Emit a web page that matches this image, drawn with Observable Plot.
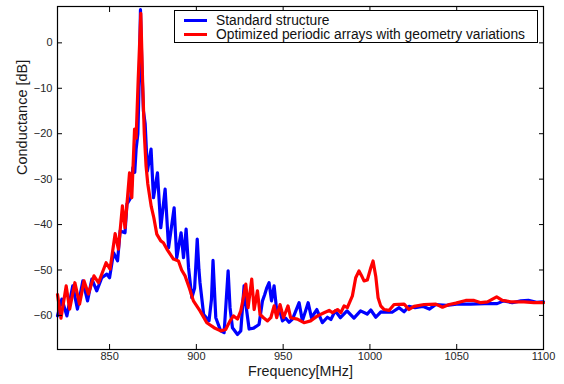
<!DOCTYPE html>
<html>
<head>
<meta charset="utf-8">
<script src="https://cdn.jsdelivr.net/npm/d3@7"></script>
<script src="https://cdn.jsdelivr.net/npm/@observablehq/plot@0.6"></script>
<style>
  body { margin: 0; background: white; }
  #wrap { position: relative; width: 564px; height: 384px; font-family: "Liberation Sans", Arial, sans-serif; }
  #legend { position: absolute; left: 174px; top: 10px; width: 362px; height: 31px; border: 1px solid black; background: white; font-size: 13.8px; color: #111; }
  .row { position: absolute; left: 0; height: 13px; line-height: 13px; white-space: nowrap; }
  .sw { position: absolute; left: 9px; top: 5px; width: 23px; height: 3px; }
  .lbl { position: absolute; left: 41px; top: 0; line-height: 13px; height: 13px; }
</style>
</head>
<body>
<div id="wrap"></div>
<script>
// ---- data ----
const seriesNames = ["Standard structure", "Optimized periodic arrays with geometry variations"];
const seriesColors = ["#0000ff", "#ff0000"];

const stdFreq = [820,822.5,825.4,828.8,831.5,834.6,837.3,839.8,842.6,845.5,848.4,850,852.3,854.6,856.1,858.9,860,862.2,863.4,864.5,865.3,866.3,867.1,867.8,868.6,869.5,870.5,871.8,873.9,875.3,877.6,879.5,882,884,887.2,888.7,891.2,892.6,894.1,895.5,897.4,899,900.5,901.5,902.1,904.2,907.3,908.7,909.6,911.2,914,916,918.3,919.4,920.8,923.7,925.6,927.5,928.5,930.4,933,936.1,938.1,939.4,940.5,941.9,943.3,944.8,946.3,947.6,949.6,951.5,953.4,955.4,959.2,961.1,964.4,966.3,969.4,972.6,975.5,977.5,980,983,986.8,990.8,994.6,998.4,1000.5,1003.4,1006.3,1010,1012.8,1016.8,1019.7,1022.5,1026,1030.4,1034.2,1038,1044,1050,1058,1066,1073.3,1077,1082,1087,1091.3,1096,1100];
const stdDb = [-60.1,-56.4,-60.1,-53.5,-58.6,-52.4,-56.8,-52.0,-54.6,-51.7,-50.9,-51.7,-46.2,-48.0,-41.4,-41.8,-35.5,-34.1,-27.5,-28.5,-23.4,-20,-8,7.3,-5,-15,-17.8,-28.2,-23.4,-34.1,-28.6,-40.7,-32.2,-45.1,-36.3,-47.3,-41.8,-47.3,-41,-49.5,-56.1,-54,-43.2,-50,-52.8,-59.8,-61.2,-56.5,-47.9,-60.5,-63.4,-63.8,-50.2,-58.3,-62.7,-64.2,-63.4,-53.5,-57.6,-63,-62.8,-62,-56.8,-55.4,-54,-52.8,-56.8,-53.5,-59,-58.3,-61.2,-60.6,-61.5,-60.8,-57.2,-61.2,-57.2,-60.5,-58.7,-61.6,-60.4,-60.9,-59,-60.5,-59,-60.6,-59,-59.7,-58.8,-60.4,-59.2,-59.3,-59.3,-58.3,-59.2,-58,-58.3,-58,-58.6,-57.6,-57.8,-57.5,-57.5,-57.4,-57.4,-56.8,-57.2,-56.8,-56.7,-57.1,-57];

const optFreq = [820,822,825,827,830,832.7,835.3,837.8,841,843.6,848,850.3,853.2,855.1,857.4,858.9,861.5,862.8,864.4,865.3,866.5,868,869,870,871,872,874,875.5,877.2,879.5,881,883,886.8,889.7,891.5,893.5,896,898.3,902.1,906,910.2,914,916.9,919.4,921.4,923.7,925.6,926.9,928.5,929.8,931.9,933.3,935.2,936.7,938.7,941,942.9,944.8,946.3,948.2,950.2,952.8,954.3,958.2,962,965.8,969.8,973.6,976.5,978.4,981.3,983.2,985.1,987,989.9,991.8,993.7,995.5,996.6,998.5,1000.5,1001.8,1003.4,1004.7,1006.2,1008.2,1011,1013.9,1019.7,1022.5,1025.4,1031.2,1038,1041.8,1045.7,1049.5,1055.2,1060,1063.9,1067.7,1073,1076.3,1081,1088.8,1094.5,1100];
const optDb = [-55.4,-60.6,-53.5,-58.6,-52.8,-57.5,-52.4,-55.3,-51.3,-52.8,-48.4,-49.8,-42,-45.4,-35.9,-40.7,-28.6,-34.1,-19,-21,-8,6.5,-8,-20,-27,-31,-36,-38.5,-42.1,-43.6,-44,-45.4,-47.6,-48,-50,-51.3,-54,-56.8,-59,-61.6,-62.7,-63.4,-63.1,-61.2,-60.1,-60.8,-59,-56.5,-53.1,-58.3,-52,-58.7,-54.6,-59.8,-60.5,-61.2,-60.5,-57.9,-60.5,-57.6,-60.5,-57.9,-60.5,-60.8,-61.6,-61.2,-60.1,-59.4,-58.9,-59.4,-58.7,-59.4,-57.9,-58.3,-55.7,-51.7,-50.2,-51.5,-52.4,-52.2,-49.5,-48,-51.5,-56.1,-57.9,-58.7,-58.9,-57.6,-57.5,-58.7,-58,-57.6,-57.5,-58.2,-57.6,-57.3,-56.7,-56.7,-57.2,-57,-55.9,-56.7,-57,-57,-57.2,-57.2];

const xTicks = [850, 900, 950, 1000, 1050, 1100];
const yTicks = [0, -10, -20, -30, -40, -50, -60];
const xLabel = "Frequency[MHz]";
const yLabel = "Conductance [dB]";

// ---- build ----
const std = stdFreq.map((f, i) => ({f, v: stdDb[i]}));
const opt = optFreq.map((f, i) => ({f, v: optDb[i]}));
const fmtY = d => d < 0 ? "\u2212" + Math.abs(d) : String(d);
const noText = () => "";
const textColor = "#262626";

const chart = Plot.plot({
  width: 564,
  height: 384,
  marginLeft: 57,
  marginRight: 21,
  marginTop: 6,
  marginBottom: 35,
  style: {fontFamily: "'Liberation Sans', Arial, sans-serif", fontSize: "11px", color: textColor, background: "white"},
  x: {domain: [820, 1100]},
  y: {domain: [-67.5, 8]},
  marks: [
    Plot.line(std, {x: "f", y: "v", stroke: seriesColors[0], strokeWidth: 3.2, strokeLinejoin: "round"}),
    Plot.line(opt, {x: "f", y: "v", stroke: seriesColors[1], strokeWidth: 3.2, strokeLinejoin: "round"}),
    Plot.frame({stroke: "black", strokeWidth: 1.2}),
    Plot.axisX(xTicks, {anchor: "bottom", tickSize: 0, tickPadding: 3, tickFormat: d => String(d), label: null, fill: textColor}),
    Plot.axisX(xTicks, {anchor: "bottom", tickSize: -5, tickFormat: noText, label: null, stroke: "black"}),
    Plot.axisX(xTicks, {anchor: "top", tickSize: -5, tickFormat: noText, label: null, stroke: "black"}),
    Plot.axisY(yTicks, {anchor: "left", tickSize: 0, tickPadding: 5, tickFormat: fmtY, label: null, fill: textColor}),
    Plot.axisY(yTicks, {anchor: "left", tickSize: -5, tickFormat: noText, label: null, stroke: "black"}),
    Plot.axisY(yTicks, {anchor: "right", tickSize: -5, tickFormat: noText, label: null, stroke: "black"}),
    Plot.text([xLabel], {frameAnchor: "bottom", dy: 26, fontSize: 14.3, fill: "#1a1a1a"}),
    Plot.text([yLabel], {frameAnchor: "left", dx: -35, dy: -3, rotate: -90, fontSize: 14.5, fill: "#1a1a1a"})
  ]
});

const wrap = document.getElementById("wrap");
wrap.appendChild(chart);

const legend = document.createElement("div");
legend.id = "legend";
seriesNames.forEach((name, i) => {
  const row = document.createElement("div");
  row.className = "row";
  row.style.top = (2.5 + i * 14.5) + "px";
  row.style.width = "100%";
  const sw = document.createElement("div");
  sw.className = "sw";
  sw.style.background = seriesColors[i];
  const lbl = document.createElement("div");
  lbl.className = "lbl";
  lbl.textContent = name;
  row.appendChild(sw);
  row.appendChild(lbl);
  legend.appendChild(row);
});
wrap.appendChild(legend);
</script>
</body>
</html>
